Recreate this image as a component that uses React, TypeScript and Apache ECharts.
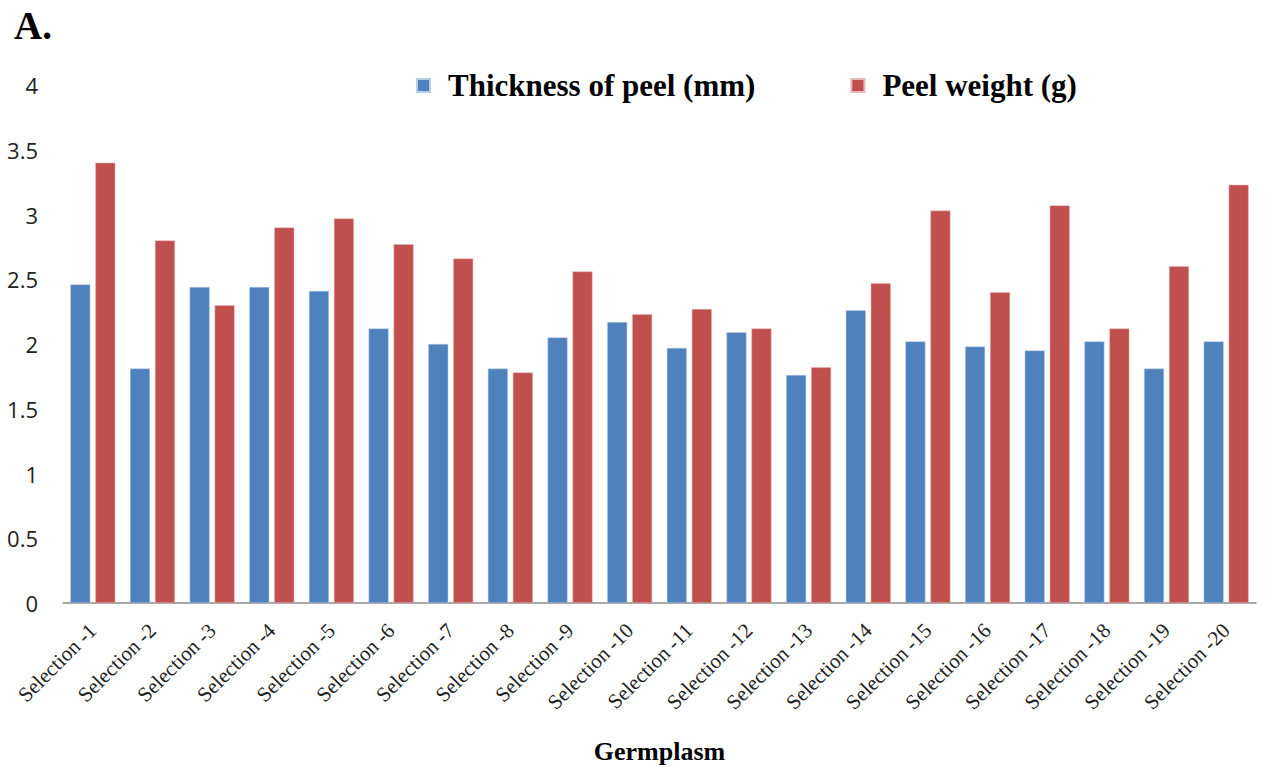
import React, { useEffect, useRef } from "react";
import * as echarts from "echarts";

const categories = [
  "Selection -1", "Selection -2", "Selection -3", "Selection -4", "Selection -5",
  "Selection -6", "Selection -7", "Selection -8", "Selection -9", "Selection -10",
  "Selection -11", "Selection -12", "Selection -13", "Selection -14", "Selection -15",
  "Selection -16", "Selection -17", "Selection -18", "Selection -19", "Selection -20",
];

const thickness = [2.46, 1.81, 2.44, 2.44, 2.41, 2.12, 2.0, 1.81, 2.05, 2.17, 1.97, 2.09, 1.76, 2.26, 2.02, 1.98, 1.95, 2.02, 1.81, 2.02];
const peelWeight = [3.4, 2.8, 2.3, 2.9, 2.97, 2.77, 2.66, 1.78, 2.56, 2.23, 2.27, 2.12, 1.82, 2.47, 3.03, 2.4, 3.07, 2.12, 2.6, 3.23];

const serif = "'Liberation Serif', 'Times New Roman', serif";
const sans = "'Open Sans', 'Liberation Sans', sans-serif";

export default function App() {
  const ref = useRef<HTMLDivElement>(null);
  useEffect(() => {
    if (!ref.current) return;
    const chart = echarts.init(ref.current, undefined, { renderer: "svg" });
    chart.setOption({
      animation: false,
      backgroundColor: "#ffffff",
      grid: { left: 63, right: 22, top: 85, bottom: 164, containLabel: false, outerBoundsMode: "none" },
      legend: {
        left: 416,
        top: 70,
        padding: 0,
        itemWidth: 13,
        itemHeight: 13,
        itemGap: 95,
        icon: "rect",
        textStyle: { fontFamily: serif, fontWeight: "bold", fontSize: 31, color: "#000", padding: [0, 0, 0, 13] },
        data: ["Thickness of peel (mm)", "Peel weight (g)"],
      },
      graphic: [
        {
          type: "text",
          left: 14,
          top: 6,
          style: { text: "A.", font: `bold 39px ${serif}`, fill: "#000" },
        },
      ],
      xAxis: {
        type: "category",
        data: categories,
        name: "Germplasm",
        nameLocation: "middle",
        nameGap: 135,
        nameTextStyle: { fontFamily: serif, fontWeight: "bold", fontSize: 26, color: "#000" },
        axisLine: { lineStyle: { color: "#8c8c8c", width: 1.5 } },
        axisTick: { show: false },
        axisLabel: {
          interval: 0,
          rotate: 45,
          margin: 24,
          fontFamily: serif,
          fontSize: 21,
          color: "#222",
        },
      },
      yAxis: {
        type: "value",
        min: 0,
        max: 4,
        interval: 0.5,
        splitLine: { show: false },
        axisLine: { show: false },
        axisTick: { show: false },
        axisLabel: { fontFamily: sans, fontSize: 22, color: "#222", margin: 25 },
      },
      series: [
        {
          name: "Thickness of peel (mm)",
          type: "bar",
          data: thickness,
          barWidth: "33.5%",
          barGap: "25%",
          itemStyle: { color: "#4F81BD", borderColor: "#b9cde6", borderWidth: 0.5 },
        },
        {
          name: "Peel weight (g)",
          type: "bar",
          data: peelWeight,
          barWidth: "33.5%",
          barGap: "25%",
          itemStyle: { color: "#C0504D", borderColor: "#e6b9b8", borderWidth: 0.5 },
        },
      ],
    });
    return () => chart.dispose();
  }, []);
  return <div ref={ref} style={{ position: "absolute", left: 0, top: 0, width: 1278, height: 767 }} />;
}
